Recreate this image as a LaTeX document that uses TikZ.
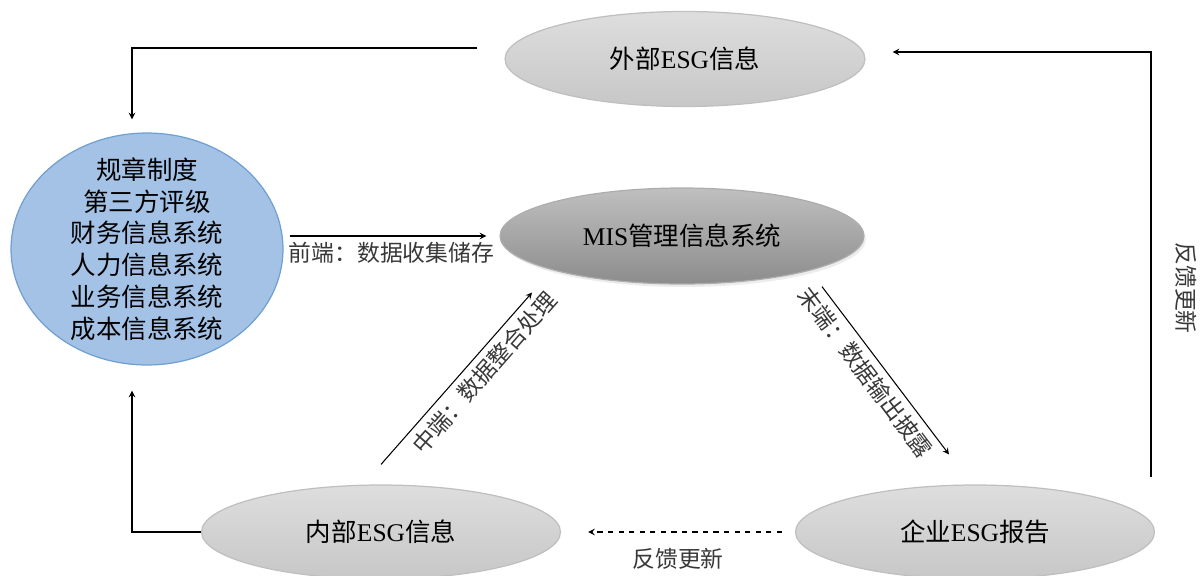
\documentclass[tikz,border=0pt]{standalone}
\usepackage{fontspec}
\setmainfont{Liberation Serif}
\newfontfamily\cjk{Noto Sans CJK SC}
\usetikzlibrary{shapes,arrows,positioning,calc,shadows}
\newcommand{\zh}[1]{{\cjk #1}}

\definecolor{srcblue}{RGB}{163,194,230}
\definecolor{srcedge}{RGB}{112,160,210}

\tikzset{
  grayell/.style={ellipse, draw=black!25, top color=black!13, bottom color=black!22,
    minimum width=7.2cm, minimum height=1.9cm, inner sep=0pt,
    font=\fontsize{14.5}{18}\selectfont},
  flowlab/.style={font=\cjk\fontsize{13}{15}\selectfont, text=black!78},
}

\begin{document}
\begin{tikzpicture}[x=0.02cm, y=-0.02cm, >=stealth, line width=0.7pt]
        \useasboundingbox (0,0) rectangle (1202,575);

        % external ESG info (top)
        \node[grayell] (ext) at (685,59) {\zh{外部}ESG\zh{信息}};

        % sources (left)
        \node[ellipse, draw=srcedge, fill=srcblue, minimum width=5.44cm, minimum height=4.64cm,
          label={[align=center, font=\cjk\fontsize{14.5}{18.1}\selectfont]center:规章制度\\第三方评级\\财务信息系统\\人力信息系统\\业务信息系统\\成本信息系统}] (src) at (147,249) {};

        % MIS (middle)
        \node[grayell, draw=black!32, top color=black!25, bottom color=black!45,
          minimum width=7.28cm, minimum height=1.92cm,
          drop shadow={opacity=0.15, shadow xshift=0.04cm, shadow yshift=-0.06cm}] (mis) at (682,236) {MIS\zh{管理信息系统}};

        % internal ESG info (bottom left)
        \node[grayell, minimum width=7.18cm, minimum height=1.88cm] (int) at (381,532) {\zh{内部}ESG\zh{信息}};

        % company ESG report (bottom right)
        \node[grayell, minimum width=7.18cm, minimum height=1.88cm] (ent) at (975,532) {\zh{企业}ESG\zh{报告}};

        % ext -> src
        \draw[->] ([xshift=-0.54cm, yshift=0.22cm]ext.west) -| ([xshift=-0.3cm, yshift=0.26cm]src.north);

        % src -> mis: front end
        \draw[->, shorten <=0.12cm, shorten >=0.26cm] (src.east |- mis.west) -- (mis.west)
          node[midway, below, flowlab] (lfront) {前端：数据收集储存};

        % int -> mis: middle end
        \draw[->, line width=0.6pt] ([yshift=0.4cm]int.north) -- ([xshift=-3cm, yshift=-0.16cm]mis.south)
          node[pos=0.6, below, sloped, flowlab] (lmid) {中端：数据整合处理};

        % mis -> ent: back end
        \draw[->, line width=0.6pt] ([xshift=2.8cm, yshift=-0.04cm]mis.south) -- ([xshift=-0.52cm, yshift=0.6cm]ent.north)
          node[pos=0.45, below, sloped, flowlab] (lend) {末端：数据输出披露};

        % ent -> ext: feedback
        \draw[->] ([xshift=-0.08cm, yshift=1.1cm]ent.east) |- ([xshift=0.54cm, yshift=0.14cm]ext.east);
        \node[flowlab, rotate=-90] (lright) at (1186,288) {反馈更新};

        % ent -> int: feedback (dashed)
        \draw[->, dashed, shorten <=0.26cm, shorten >=0.54cm] (ent.west) -- (int.east)
          node[midway, below=0.2cm, flowlab] (lback) {反馈更新};

        % int -> src
        \draw[->] (int.west) -| ([xshift=-0.3cm, yshift=-0.5cm]src.south);

    \end{tikzpicture}
\end{document}
